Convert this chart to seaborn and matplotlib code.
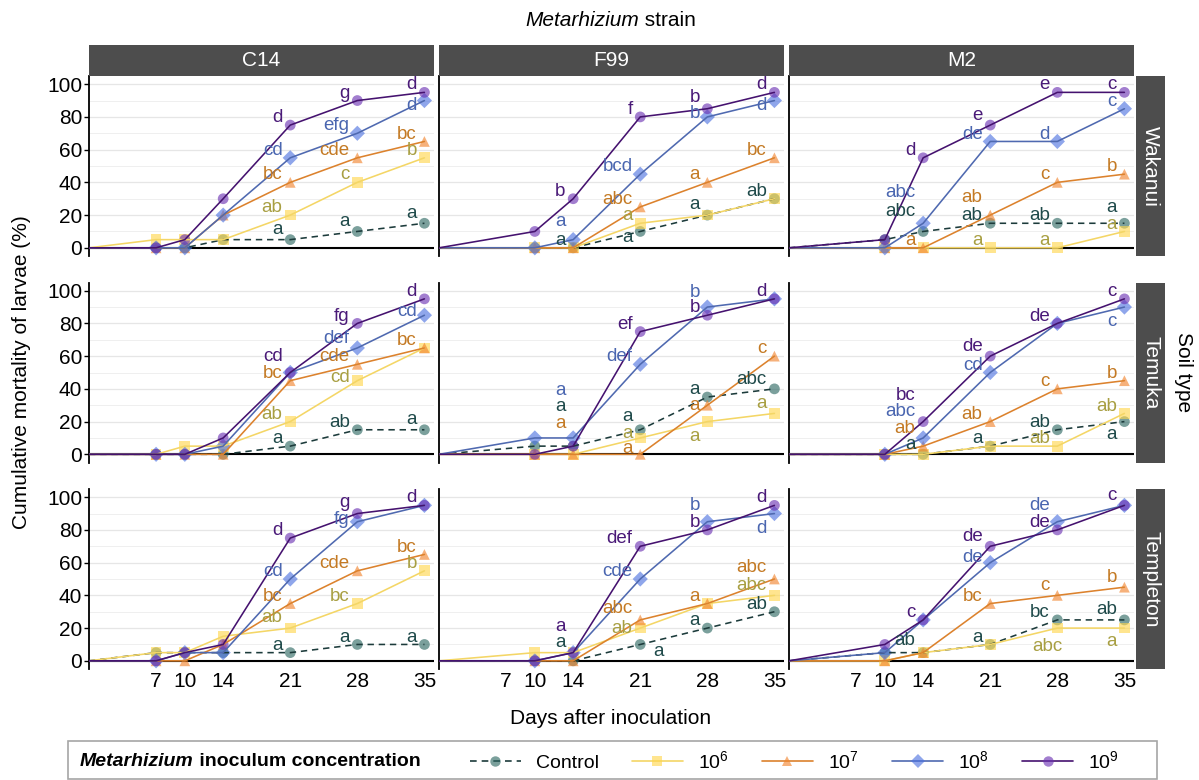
import matplotlib
matplotlib.use("Agg")
import matplotlib.pyplot as plt
import seaborn as sns
import pandas as pd
from matplotlib.colors import to_rgba
from matplotlib.lines import Line2D
from matplotlib.patches import Rectangle

sns.set_theme(style="white")
plt.rcParams["font.family"] = ["Liberation Sans", "DejaVu Sans"]
plt.rcParams["mathtext.default"] = "regular"
for key in ("text.color", "axes.labelcolor", "xtick.color", "ytick.color"):
    plt.rcParams[key] = "black"

# ---------------------------------------------------------------- data
STRAINS = ["C14", "F99", "M2"]
SOILS = ["Wakanui", "Temuka", "Templeton"]
SERIES = ["Control", "10^6", "10^7", "10^8", "10^9"]
SERIES_LABELS = ["Control", "$10^6$", "$10^7$", "$10^8$", "$10^9$"]
X_TICKS = [7, 10, 14, 21, 28, 35]
DAYS = {
    "C14": [0, 7, 10, 14, 21, 28, 35],
    "F99": [0, 10, 14, 21, 28, 35],
    "M2": [0, 10, 14, 21, 28, 35],
}

# cumulative mortality (%), one list per concentration, aligned with DAYS
C14_WAKANUI = {
    "Control": [0, 0, 0, 5, 5, 10, 15],
    "10^6": [0, 5, 5, 5, 20, 40, 55],
    "10^7": [0, 0, 0, 20, 40, 55, 65],
    "10^8": [0, 0, 0, 20, 55, 70, 90],
    "10^9": [0, 0, 5, 30, 75, 90, 95],
}
F99_WAKANUI = {
    "Control": [0, 0, 0, 10, 20, 30],
    "10^6": [0, 0, 0, 15, 20, 30],
    "10^7": [0, 0, 0, 25, 40, 55],
    "10^8": [0, 0, 5, 45, 80, 90],
    "10^9": [0, 10, 30, 80, 85, 95],
}
M2_WAKANUI = {
    "Control": [0, 5, 10, 15, 15, 15],
    "10^6": [0, 0, 0, 0, 0, 10],
    "10^7": [0, 0, 0, 20, 40, 45],
    "10^8": [0, 0, 15, 65, 65, 85],
    "10^9": [0, 5, 55, 75, 95, 95],
}
C14_TEMUKA = {
    "Control": [0, 0, 0, 0, 5, 15, 15],
    "10^6": [0, 0, 5, 5, 20, 45, 65],
    "10^7": [0, 0, 0, 0, 45, 55, 65],
    "10^8": [0, 0, 0, 5, 50, 65, 85],
    "10^9": [0, 0, 0, 10, 50, 80, 95],
}
F99_TEMUKA = {
    "Control": [0, 5, 5, 15, 35, 40],
    "10^6": [0, 0, 0, 10, 20, 25],
    "10^7": [0, 0, 0, 0, 30, 60],
    "10^8": [0, 10, 10, 55, 90, 95],
    "10^9": [0, 0, 5, 75, 85, 95],
}
M2_TEMUKA = {
    "Control": [0, 0, 0, 5, 15, 20],
    "10^6": [0, 0, 0, 5, 5, 25],
    "10^7": [0, 0, 5, 20, 40, 45],
    "10^8": [0, 0, 10, 50, 80, 90],
    "10^9": [0, 0, 20, 60, 80, 95],
}
C14_TEMPLETON = {
    "Control": [0, 5, 5, 5, 5, 10, 10],
    "10^6": [0, 5, 5, 15, 20, 35, 55],
    "10^7": [0, 0, 0, 10, 35, 55, 65],
    "10^8": [0, 0, 5, 5, 50, 85, 95],
    "10^9": [0, 0, 5, 10, 75, 90, 95],
}
F99_TEMPLETON = {
    "Control": [0, 0, 0, 10, 20, 30],
    "10^6": [0, 5, 5, 20, 35, 40],
    "10^7": [0, 0, 0, 25, 35, 50],
    "10^8": [0, 0, 5, 50, 85, 90],
    "10^9": [0, 0, 5, 70, 80, 95],
}
M2_TEMPLETON = {
    "Control": [0, 5, 5, 10, 25, 25],
    "10^6": [0, 0, 5, 10, 20, 20],
    "10^7": [0, 0, 5, 35, 40, 45],
    "10^8": [0, 5, 25, 60, 85, 95],
    "10^9": [0, 10, 25, 70, 80, 95],
}

# significance letters, aligned with the sampling days (day 0 excluded)
C14_WAKANUI_LETTERS = {
    "Control": ["", "", "", "a", "a", "a"],
    "10^6": ["", "", "", "ab", "c", "b"],
    "10^7": ["", "", "", "bc", "cde", "bc"],
    "10^8": ["", "", "", "cd", "efg", "d"],
    "10^9": ["", "", "", "d", "g", "d"],
}
F99_WAKANUI_LETTERS = {
    "Control": ["", "a", "a", "a", "ab"],
    "10^6": ["", "", "a", "", ""],
    "10^7": ["", "", "abc", "a", "bc"],
    "10^8": ["", "a", "bcd", "b", "d"],
    "10^9": ["", "b", "f", "b", "d"],
}
M2_WAKANUI_LETTERS = {
    "Control": ["", "abc", "ab", "ab", "a"],
    "10^6": ["", "", "a", "a", "a"],
    "10^7": ["", "a", "ab", "c", "b"],
    "10^8": ["", "abc", "de", "d", "c"],
    "10^9": ["", "d", "e", "e", "c"],
}
C14_TEMUKA_LETTERS = {
    "Control": ["", "", "", "a", "ab", "a"],
    "10^6": ["", "", "", "ab", "cd", ""],
    "10^7": ["", "", "", "bc", "cde", "bc"],
    "10^8": ["", "", "", "", "def", "cd"],
    "10^9": ["", "", "", "cd", "fg", "d"],
}
F99_TEMUKA_LETTERS = {
    "Control": ["", "a", "a", "a", "abc"],
    "10^6": ["", "", "a", "a", "a"],
    "10^7": ["", "a", "a", "a", "c"],
    "10^8": ["", "a", "def", "b", ""],
    "10^9": ["", "", "ef", "b", "d"],
}
M2_TEMUKA_LETTERS = {
    "Control": ["", "a", "a", "ab", "a"],
    "10^6": ["", "", "", "ab", "ab"],
    "10^7": ["", "ab", "ab", "c", "b"],
    "10^8": ["", "abc", "cd", "", "c"],
    "10^9": ["", "bc", "de", "de", "c"],
}
C14_TEMPLETON_LETTERS = {
    "Control": ["", "", "", "a", "a", "a"],
    "10^6": ["", "", "", "ab", "bc", "b"],
    "10^7": ["", "", "", "bc", "cde", "bc"],
    "10^8": ["", "", "", "cd", "fg", ""],
    "10^9": ["", "", "", "d", "g", "d"],
}
F99_TEMPLETON_LETTERS = {
    "Control": ["", "a", "a", "a", "ab"],
    "10^6": ["", "", "ab", "", "abc"],
    "10^7": ["", "", "abc", "a", "abc"],
    "10^8": ["", "", "cde", "b", "d"],
    "10^9": ["", "a", "def", "b", "d"],
}
M2_TEMPLETON_LETTERS = {
    "Control": ["", "ab", "a", "bc", "ab"],
    "10^6": ["", "", "", "abc", "a"],
    "10^7": ["", "", "bc", "c", "b"],
    "10^8": ["", "", "de", "de", ""],
    "10^9": ["", "c", "de", "de", "c"],
}

MORTALITY = {
    ("C14", "Wakanui"): C14_WAKANUI, ("F99", "Wakanui"): F99_WAKANUI, ("M2", "Wakanui"): M2_WAKANUI,
    ("C14", "Temuka"): C14_TEMUKA, ("F99", "Temuka"): F99_TEMUKA, ("M2", "Temuka"): M2_TEMUKA,
    ("C14", "Templeton"): C14_TEMPLETON, ("F99", "Templeton"): F99_TEMPLETON,
    ("M2", "Templeton"): M2_TEMPLETON,
}
LETTERS = {
    ("C14", "Wakanui"): C14_WAKANUI_LETTERS, ("F99", "Wakanui"): F99_WAKANUI_LETTERS,
    ("M2", "Wakanui"): M2_WAKANUI_LETTERS, ("C14", "Temuka"): C14_TEMUKA_LETTERS,
    ("F99", "Temuka"): F99_TEMUKA_LETTERS, ("M2", "Temuka"): M2_TEMUKA_LETTERS,
    ("C14", "Templeton"): C14_TEMPLETON_LETTERS, ("F99", "Templeton"): F99_TEMPLETON_LETTERS,
    ("M2", "Templeton"): M2_TEMPLETON_LETTERS,
}

# ---------------------------------------------------------------- style
LINE_COLORS = {"Control": "#1c3b3b", "10^6": "#f4d666", "10^7": "#dc822d",
               "10^8": "#4f69b0", "10^9": "#45126f"}
MARKER_COLORS = {"Control": "#2a6660", "10^6": "#ffd64a", "10^7": "#f2822a",
                 "10^8": "#4a70e0", "10^9": "#6a2fb2"}
MARKER_ALPHA = 0.62
TEXT_COLORS = {"Control": "#1f4a4a", "10^6": "#a89f42", "10^7": "#c47a24",
               "10^8": "#4a66b0", "10^9": "#4a1a78"}
MARKERS = {"Control": "o", "10^6": "s", "10^7": "^", "10^8": "D", "10^9": "o"}
DASHES = {"Control": (4, 3), "10^6": "", "10^7": "", "10^8": "", "10^9": ""}

# label placement: vertical shift in % units (default +4.5), optional x offset (pt) / alignment
LABEL_DY = 4.5
LABEL_DX = -5.5
LABEL_NUDGE = {
    ("C14", "Wakanui", "10^8", 35): -3,
    ("C14", "Wakanui", "Control", 21): 6, ("C14", "Wakanui", "Control", 28): 6,
    ("C14", "Wakanui", "Control", 35): 6,
    ("F99", "Wakanui", "10^8", 14): 11,
    ("F99", "Wakanui", "Control", 21): -4,
    ("F99", "Wakanui", "10^9", 28): 7,
    ("F99", "Wakanui", "10^8", 28): 2,
    ("F99", "Wakanui", "Control", 28): 6.5,
    ("F99", "Wakanui", "10^8", 35): -3,
    ("M2", "Wakanui", "10^8", 14): 19,
    ("M2", "Wakanui", "Control", 14): 12,
    ("M2", "Wakanui", "10^9", 21): 6,
    ("M2", "Wakanui", "10^7", 21): 11,
    ("M2", "Wakanui", "Control", 35): 9.5,
    ("C14", "Temuka", "10^9", 21): 10,
    ("C14", "Temuka", "10^6", 28): 2,
    ("C14", "Temuka", "10^8", 28): 6,
    ("C14", "Temuka", "10^8", 35): 2,
    ("C14", "Temuka", "Control", 35): 6,
    ("F99", "Temuka", "10^8", 14): 29,
    ("F99", "Temuka", "Control", 14): 24,
    ("F99", "Temuka", "10^7", 14): 19,
    ("F99", "Temuka", "Control", 21): 8,
    ("F99", "Temuka", "10^6", 21): 3,
    ("F99", "Temuka", "10^7", 21): 3.5,
    ("F99", "Temuka", "10^8", 28): 9,
    ("F99", "Temuka", "10^7", 28): 0,
    ("F99", "Temuka", "10^6", 28): -9,
    ("F99", "Temuka", "Control", 35): 6,
    ("F99", "Temuka", "10^6", 35): 6,
    ("M2", "Temuka", "10^9", 14): 16,
    ("M2", "Temuka", "10^8", 14): 16,
    ("M2", "Temuka", "10^7", 14): 11,
    ("M2", "Temuka", "Control", 14): 6,
    ("M2", "Temuka", "10^9", 21): 6,
    ("M2", "Temuka", "10^8", 35): -9,
    ("M2", "Temuka", "Control", 35): -8,
    ("C14", "Templeton", "10^9", 28): 7,
    ("C14", "Templeton", "10^8", 28): 1.6,
    ("C14", "Templeton", "10^6", 21): 6.5,
    ("F99", "Templeton", "10^9", 14): 16,
    ("F99", "Templeton", "Control", 14): 11,
    ("F99", "Templeton", "10^7", 21): 7,
    ("F99", "Templeton", "10^6", 21): 0,
    ("F99", "Templeton", "Control", 21): (9, -4.3, "left"),
    ("F99", "Templeton", "10^8", 28): 10,
    ("F99", "Templeton", "10^8", 35): -9,
    ("F99", "Templeton", "10^7", 35): 7,
    ("F99", "Templeton", "10^6", 35): 6,
    ("M2", "Templeton", "Control", 14): 7.5,
    ("M2", "Templeton", "10^9", 21): 6,
    ("M2", "Templeton", "10^8", 21): 3,
    ("M2", "Templeton", "10^8", 28): 10,
    ("M2", "Templeton", "10^7", 28): 6,
    ("M2", "Templeton", "10^6", 28): (4, -11, "right"),
    ("M2", "Templeton", "10^6", 35): -8,
    ("M2", "Templeton", "10^9", 35): 6,
    ("M2", "Templeton", "10^7", 35): 6,
    ("M2", "Templeton", "Control", 35): 6.5,
}

# ---------------------------------------------------------------- long table
records = []
for (strain, soil), table in MORTALITY.items():
    for series in SERIES:
        for day, value in zip(DAYS[strain], table[series]):
            records.append(dict(strain=strain, soil=soil, series=series, day=day, mortality=value))
df = pd.DataFrame(records)

# ---------------------------------------------------------------- figure
W, H = 1199, 780
fig = plt.figure(figsize=(W / 100, H / 100), dpi=100)


def px_rect(left, top, width, height):
    return [left / W, 1 - (top + height) / H, width / W, height / H]


def strip_axes(rect):
    sax = fig.add_axes(rect)
    sax.set_facecolor("#4d4d4d")
    sax.set_xticks([])
    sax.set_yticks([])
    for sp in sax.spines.values():
        sp.set_visible(False)
    return sax


PANEL_LEFT = [89, 439, 789]
PANEL_W = 345
ROW_TOP = [76, 282.5, 489]
PANEL_H = 180

for r, soil in enumerate(SOILS):
    for c, strain in enumerate(STRAINS):
        ax = fig.add_axes(px_rect(PANEL_LEFT[c], ROW_TOP[r], PANEL_W, PANEL_H))
        sub = df[(df.strain == strain) & (df.soil == soil)]
        sns.scatterplot(data=sub[sub.day > 0], x="day", y="mortality", hue="series",
                        style="series", hue_order=SERIES, style_order=SERIES,
                        palette=MARKER_COLORS, markers=MARKERS, s=60, alpha=MARKER_ALPHA,
                        linewidth=0, legend=False, ax=ax, zorder=3)
        sns.lineplot(data=sub, x="day", y="mortality", hue="series", style="series",
                     hue_order=SERIES, style_order=SERIES, palette=LINE_COLORS,
                     dashes=DASHES, linewidth=1.15, estimator=None, legend=False,
                     ax=ax, zorder=4)
        ax.axhline(0, color="black", lw=1.5, zorder=2)

        letters = LETTERS[(strain, soil)]
        vals = MORTALITY[(strain, soil)]
        for series in SERIES:
            for day, value, letter in zip(DAYS[strain][1:], vals[series][1:], letters[series]):
                if not letter:
                    continue
                nudge = LABEL_NUDGE.get((strain, soil, series, day), LABEL_DY)
                if isinstance(nudge, tuple):
                    dx, dy, ha = nudge
                else:
                    dx, dy, ha = LABEL_DX, nudge, "right"
                ax.annotate(letter, xy=(day, value + dy), xytext=(dx, 0),
                            textcoords="offset points", ha=ha, va="center",
                            color=TEXT_COLORS[series], fontsize=13.5, zorder=5)

        ax.set_xlim(0, 36)
        ax.set_ylim(-5, 105)
        ax.set_yticks([0, 20, 40, 60, 80, 100])
        ax.set_yticks([10, 30, 50, 70, 90], minor=True)
        ax.set_xticks(X_TICKS)
        ax.grid(axis="y", which="major", color="#e6e6e6", lw=0.9, zorder=0)
        ax.grid(axis="y", which="minor", color="#efefef", lw=0.7, zorder=0)
        ax.grid(axis="x", visible=False)
        ax.set_axisbelow(True)
        for side in ("top", "right", "bottom"):
            ax.spines[side].set_visible(False)
        ax.spines["left"].set_color("black")
        ax.spines["left"].set_linewidth(1.3)
        ax.set_xlabel("")
        ax.set_ylabel("")
        ax.tick_params(axis="y", which="major", length=3.5 if c == 0 else 0, width=1,
                       left=True, labelsize=15, pad=1.5, labelleft=(c == 0))
        ax.tick_params(axis="y", which="minor", length=0)
        ax.tick_params(axis="x", length=0, labelsize=15, pad=2, labelbottom=(r == 2))

        if r == 0:
            sax = strip_axes(px_rect(PANEL_LEFT[c], 45, PANEL_W, 31))
            sax.text(0.5, 0.5, strain, color="white", fontsize=15, ha="center",
                     va="center", transform=sax.transAxes)
    rax = strip_axes(px_rect(1136, ROW_TOP[r], 29, PANEL_H))
    rax.text(0.5, 0.5, soil, color="white", fontsize=15, ha="center", va="center",
             rotation=270, transform=rax.transAxes)

# axis titles
fig.text(22 / W, 1 - 372 / H, "Cumulative mortality of larvae (%)", rotation=90,
         ha="center", va="center", fontsize=15)
fig.text(611 / W, 1 - 718 / H, "Days after inoculation", ha="center", va="center",
         fontsize=15)
fig.text(1184 / W, 1 - 372 / H, "Soil type", rotation=270, ha="center", va="center",
         fontsize=15)

renderer = fig.canvas.get_renderer()


def mixed_text(parts, x_px, y_px, align="center", **common):
    texts = [fig.text(0, 1 - y_px / H, s, ha="left", va="center", **common, **kw)
             for s, kw in parts]
    widths = [t.get_window_extent(renderer).width for t in texts]
    start = x_px - sum(widths) / 2 if align == "center" else x_px
    for t, w in zip(texts, widths):
        t.set_x(start / W)
        start += w
    return start


mixed_text([("Metarhizium", dict(style="italic")), (" strain", {})], 611, 20, fontsize=15)

# legend box with an inline title
fig.patches.append(Rectangle((68 / W, 1 - 779 / H), (1157 - 68) / W, 38 / H,
                             transform=fig.transFigure, facecolor="white",
                             edgecolor="#a6a6a6", lw=1.2, zorder=0))
mixed_text([("Metarhizium", dict(style="italic", weight="bold")),
            (" inoculum concentration", dict(weight="bold"))],
           80, 761, align="left", fontsize=14)
handles = []
for s in SERIES:
    h = Line2D([], [], color=LINE_COLORS[s], lw=1.2, marker=MARKERS[s], markersize=7.5,
               markeredgewidth=0, markerfacecolor=to_rgba(MARKER_COLORS[s], MARKER_ALPHA))
    if DASHES[s]:
        h.set_dashes(DASHES[s])
    handles.append(h)
fig.legend(handles, SERIES_LABELS, loc="center left",
           bbox_to_anchor=(470 / W, 1 - 761 / H), ncol=5, frameon=False,
           fontsize=14, handlelength=2.6, handletextpad=0.8, columnspacing=1.7,
           borderaxespad=0, borderpad=0)

fig.savefig("out.png", dpi=100)
